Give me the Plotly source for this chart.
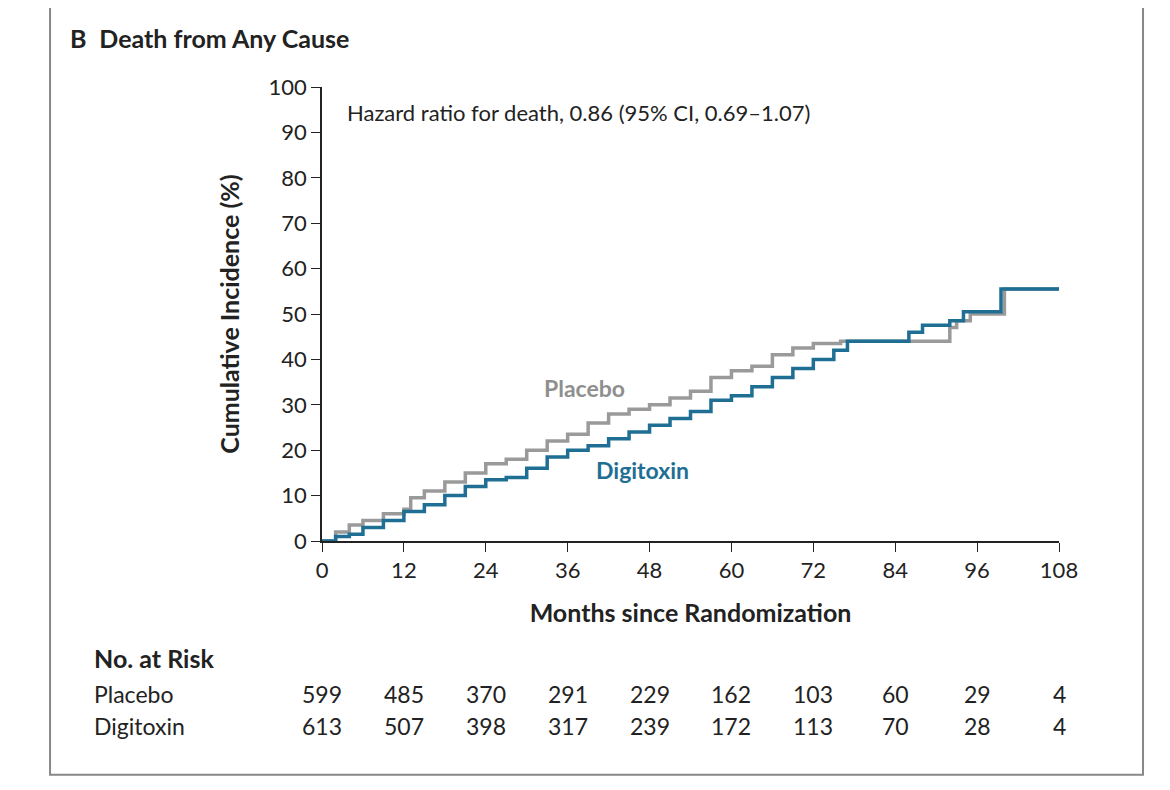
import plotly.graph_objects as go

placebo_t = [0,2,4,6,9,12,13,15,18,21,24,27,30,33,36,39,42,45,48,51,54,57,60,63,66,69,72,76,84,91,92,93,95,100,108]
placebo_y = [0,2,3.5,4.5,6,7,9.5,11,13,15,17,18,20,22,23.5,26,28,29,30,31.5,33,36,37.5,38.5,41,42.5,43.5,44,44,44,47,48.5,50,55.5,55.5]
digi_t = [0,2,4,6,9,12,15,18,21,24,27,30,33,36,39,42,45,48,51,54,57,60,63,66,69,72,75,77,84,86,88,92,94,99.5,109]
digi_y = [0,1,1.5,3,4.5,6.5,8,10,12,13.5,14,16,18.5,20,21,22.5,24,25.5,27,28.5,31,32,34,36,38,40,42,44,44,46,47.5,48.5,50.5,55.5,55.5]
risk_months = [0,12,24,36,48,60,72,84,96,108]
risk_placebo = [599,485,370,291,229,162,103,60,29,4]
risk_digitoxin = [613,507,398,317,239,172,113,70,28,4]

F = "Lato"
fig = go.Figure()
fig.add_trace(go.Scatter(x=placebo_t, y=placebo_y, mode="lines", line=dict(shape="hv", color="#9a9a9a", width=3.5)))
fig.add_trace(go.Scatter(x=digi_t, y=digi_y, mode="lines", line=dict(shape="hv", color="#1f6f94", width=3.5)))

fig.update_layout(
    width=1170, height=790, plot_bgcolor="white", paper_bgcolor="white", showlegend=False,
    margin=dict(l=314, r=119, t=79, b=257),
    font=dict(family=F, color="#222", size=22),
)
fig.update_xaxes(range=[0,108], tickvals=risk_months, showline=True, linecolor="#222", linewidth=1.5,
                 ticks="outside", ticklen=9, tickcolor="#222", showgrid=False, zeroline=False,
                 tickfont=dict(size=22),
                 title=dict(text="<b>Months since Randomization</b>", font=dict(size=25), standoff=22))
fig.update_yaxes(range=[0,100], dtick=10, showline=True, linecolor="#222", linewidth=1.5,
                 ticks="outside", ticklen=9, tickcolor="#222", showgrid=False, zeroline=False,
                 tickfont=dict(size=22),
                 title=dict(text="<b>Cumulative Incidence (%)</b>", font=dict(size=25), standoff=22))

ann = [
    dict(x=-0.345, y=1.108, xref="paper", yref="paper", text="<b>B</b>  <b>Death from Any Cause</b>",
         showarrow=False, xanchor="left", yanchor="middle", font=dict(size=25)),
    dict(x=3.4, y=94.3, xref="x", yref="y", text="Hazard ratio for death, 0.86 (95% CI, 0.69–1.07)",
         showarrow=False, xanchor="left", font=dict(size=22)),
    dict(x=38.4, y=33.7, xref="x", yref="y", text="<b>Placebo</b>", showarrow=False, font=dict(size=23, color="#8f8f8f")),
    dict(x=46.9, y=15.6, xref="x", yref="y", text="<b>Digitoxin</b>", showarrow=False, font=dict(size=23, color="#1f6f94")),
    dict(x=-0.312, y=-0.295, xref="paper", yref="paper", text="<b>No. at Risk</b>", showarrow=False,
         xanchor="left", font=dict(size=25)),
    dict(x=-0.312, y=-0.372, xref="paper", yref="paper", text="Placebo", showarrow=False, xanchor="left", font=dict(size=23)),
    dict(x=-0.312, y=-0.443, xref="paper", yref="paper", text="Digitoxin", showarrow=False, xanchor="left", font=dict(size=23)),
]
for m, p, d in zip(risk_months, risk_placebo, risk_digitoxin):
    ann.append(dict(x=m, y=-0.372, xref="x", yref="paper", text=str(p), showarrow=False, font=dict(size=23)))
    ann.append(dict(x=m, y=-0.443, xref="x", yref="paper", text=str(d), showarrow=False, font=dict(size=23)))
fig.update_layout(annotations=ann)
fig.add_shape(type="rect", xref="paper", yref="paper", x0=-0.369, x1=1.114, y0=-0.515, y1=1.19,
              line=dict(color="#888", width=2), fillcolor="rgba(0,0,0,0)")
fig.write_html("out.html")
